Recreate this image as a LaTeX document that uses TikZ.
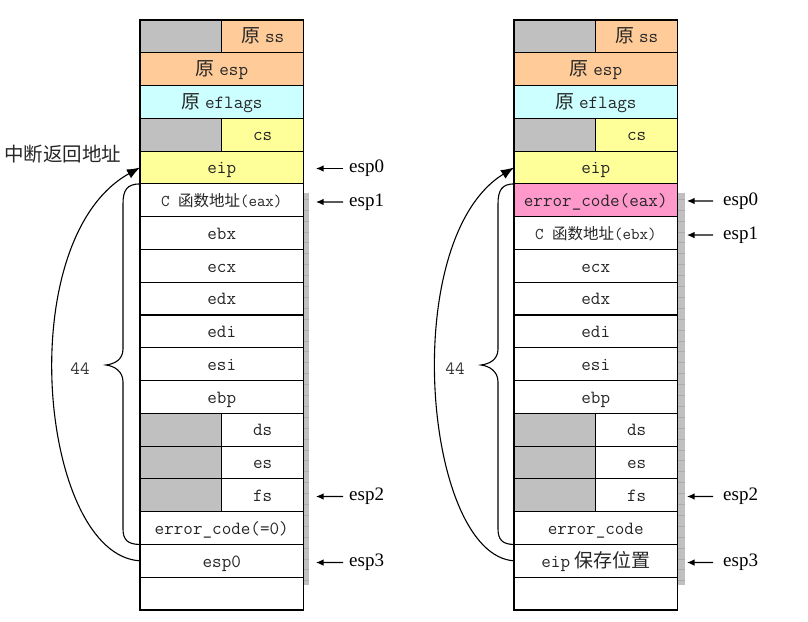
\documentclass[tikz,border=0pt]{standalone}
\usepackage{fontspec}
\setmainfont{Liberation Serif}
\newfontfamily\cjkfam{Noto Sans CJK SC}
\usetikzlibrary{arrows.meta}
\definecolor{peach}{HTML}{FFCC99}
\definecolor{lcyan}{HTML}{CCFFFF}
\definecolor{lyellow}{HTML}{FFFF99}
\definecolor{lpink}{HTML}{FF99CC}
\definecolor{sgray}{HTML}{C0C0C0}
\newcommand{\bxm}{\ttfamily\fontsize{18.6}{20}\selectfont}
\newcommand{\bxc}{\cjkfam\fontsize{19}{20}\selectfont}
\newcommand{\smm}{\ttfamily\fontsize{16.5}{18}\selectfont}
\newcommand{\smc}{\cjkfam\fontsize{15.5}{16}\selectfont}
\begin{document}
\begin{tikzpicture}[x=1pt,y=-1pt,
  cell/.style={draw, line width=1.1pt, fill=white, minimum height=32.78pt, inner sep=0pt, outer sep=0pt, anchor=north west, text=black!85, font=\bxm, text height=12.5pt, text depth=0pt},
  full/.style={cell, minimum width=163.5pt},
  half/.style={cell, minimum width=81.75pt},
  blank/.style={half, fill=sgray},
  esplabel/.style={font=\fontsize{19}{20}\selectfont, anchor=west, inner sep=0pt},
  ptr/.style={-{Latex[length=7.5pt,width=6.5pt]}, line width=1.1pt},
  curve/.style={line width=1.1pt},
  retarrow/.style={curve, -{Latex[length=13pt,width=10pt]}}
]
\useasboundingbox (0,0) rectangle (808,621);
% grey strips
\fill[sgray] (303.5,193) rectangle (308.5,585);
\foreach \y in {199,209.9,...,585} \draw[gray!65, line width=0.4pt] (303.5,\y) -- (308.5,\y);
\fill[sgray] (677.5,193) rectangle (684.5,585);
\foreach \y in {199,209.9,...,585} \draw[gray!65, line width=0.4pt] (677.5,\y) -- (684.5,\y);

% ---------- left stack ----------
\node[blank] (La0) at (140,20) {};
\node[half, fill=peach] (Lb0) at (221.75,20) {{\bxc 原}\hspace{5pt}ss};
\node[full, fill=peach] (L1) at (140,52.78) {{\bxc 原}\hspace{5pt}esp};
\node[full, fill=lcyan] (L2) at (140,85.56) {{\bxc 原}\hspace{5pt}eflags};
\node[blank] (La3) at (140,118.33) {};
\node[half, fill=lyellow] (Lb3) at (221.75,118.33) {cs};
\node[full, fill=lyellow] (L4) at (140,151.11) {eip};
\node[full] (L5) at (140,183.89) {{\smm C }{\smc 函数地址}{\smm (eax)}};
\node[full] (L6) at (140,216.67) {ebx};
\node[full] (L7) at (140,249.44) {ecx};
\node[full] (L8) at (140,282.22) {edx};
\node[full] (L9) at (140,315.0) {edi};
\node[full] (L10) at (140,347.78) {esi};
\node[full] (L11) at (140,380.56) {ebp};
\node[blank] (La12) at (140,413.33) {};
\node[half] (Lb12) at (221.75,413.33) {ds};
\node[blank] (La13) at (140,446.11) {};
\node[half] (Lb13) at (221.75,446.11) {es};
\node[blank] (La14) at (140,478.89) {};
\node[half] (Lb14) at (221.75,478.89) {fs};
\node[full] (L15) at (140,511.67) {error\_code(=0)};
\node[full] (L16) at (140,544.44) {esp0};
\node[full] (L17) at (140,577.22) {};

% ---------- right stack ----------
\node[blank] (Ra0) at (514,20) {};
\node[half, fill=peach] (Rb0) at (595.75,20) {{\bxc 原}\hspace{5pt}ss};
\node[full, fill=peach] (R1) at (514,52.78) {{\bxc 原}\hspace{5pt}esp};
\node[full, fill=lcyan] (R2) at (514,85.56) {{\bxc 原}\hspace{5pt}eflags};
\node[blank] (Ra3) at (514,118.33) {};
\node[half, fill=lyellow] (Rb3) at (595.75,118.33) {cs};
\node[full, fill=lyellow] (R4) at (514,151.11) {eip};
\node[full, fill=lpink] (R5) at (514,183.89) {error\_code(eax)};
\node[full] (R6) at (514,216.67) {{\smm C }{\smc 函数地址}{\smm (ebx)}};
\node[full] (R7) at (514,249.44) {ecx};
\node[full] (R8) at (514,282.22) {edx};
\node[full] (R9) at (514,315.0) {edi};
\node[full] (R10) at (514,347.78) {esi};
\node[full] (R11) at (514,380.56) {ebp};
\node[blank] (Ra12) at (514,413.33) {};
\node[half] (Rb12) at (595.75,413.33) {ds};
\node[blank] (Ra13) at (514,446.11) {};
\node[half] (Rb13) at (595.75,446.11) {es};
\node[blank] (Ra14) at (514,478.89) {};
\node[half] (Rb14) at (595.75,478.89) {fs};
\node[full] (R15) at (514,511.67) {error\_code};
\node[full] (R16) at (514,544.44) {eip\hspace{4pt}{\bxc 保存位置}};
\node[full] (R17) at (514,577.22) {};

% ---------- esp labels ----------
\node[esplabel] (le0) at (349,168.5) {esp0};
\node[esplabel] (le1) at (349,202) {esp1};
\node[esplabel] (le2) at (349,496.5) {esp2};
\node[esplabel] (le3) at (349,562.5) {esp3};
\draw[ptr] ([xshift=-6pt]le0.west) -- ([xshift=12.5pt,yshift=-1pt]L4.east);
\draw[ptr] ([xshift=-6pt]le1.west) -- ([xshift=12.5pt,yshift=-1.7pt]L5.east);
\draw[ptr] ([xshift=-6pt]le2.west) -- ([xshift=12.5pt,yshift=-1.2pt]Lb14.east);
\draw[ptr] ([xshift=-6pt]le3.west) -- ([xshift=12.5pt,yshift=-1.7pt]L16.east);

\node[esplabel] (re0) at (723,201) {esp0};
\node[esplabel] (re1) at (723,235) {esp1};
\node[esplabel] (re2) at (723,496.5) {esp2};
\node[esplabel] (re3) at (723,562.5) {esp3};
\draw[ptr] ([xshift=-10pt]re0.west) -- ([xshift=9.5pt,yshift=-0.7pt]R5.east);
\draw[ptr] ([xshift=-10pt]re1.west) -- ([xshift=9.5pt,yshift=-2pt]R6.east);
\draw[ptr] ([xshift=-10pt]re2.west) -- ([xshift=9.5pt,yshift=-1.2pt]Rb14.east);
\draw[ptr] ([xshift=-10pt]re3.west) -- ([xshift=9.5pt,yshift=-1.7pt]R16.east);

% ---------- left brace, label, return curve ----------
\draw[curve] (L5.north west) .. controls (127,184) and (123,190) .. (123,204) -- (123,349) .. controls (123,360) and (114,364) .. (106,365) .. controls (114,366) and (123,371) .. (123,382) -- (123,529) .. controls (123,540) and (128,544.4) .. (L15.south west);
\node[font=\bxm, text=black!80, inner sep=1pt] (n44l) at (80,369) {44};
\draw[retarrow] (L16.west) .. controls (40,555) and (10,240) .. (L4.west);
\node[font=\cjkfam\fontsize{19.5}{20}\selectfont, text=black!85, anchor=west, inner sep=0pt] (ret) at (4,154) {中断返回地址};

% ---------- right brace, label, return curve ----------
\draw[curve] (R5.north west) .. controls (502,184) and (498,190) .. (498,204) -- (498,349) .. controls (498,360) and (489,364) .. (481,365) .. controls (489,366) and (498,371) .. (498,382) -- (498,529) .. controls (498,540) and (503,544.4) .. (R15.south west);
\node[font=\bxm, text=black!80, inner sep=1pt] (n44r) at (455,369) {44};
\draw[retarrow] (R16.west) .. controls (424,555) and (397,240) .. (R4.west);
\end{tikzpicture}
\end{document}
